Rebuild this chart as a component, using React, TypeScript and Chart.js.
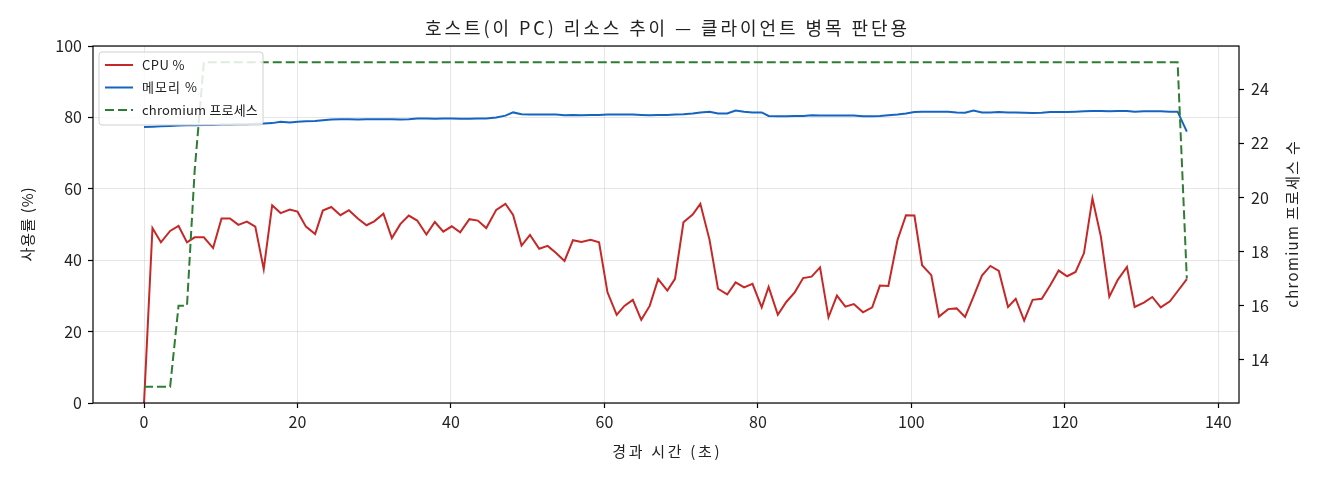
import { useEffect, useRef } from "react"
import { Chart, registerables } from "chart.js"

Chart.register(...registerables)

const FONT = '"Noto Sans CJK KR", "Noto Sans", sans-serif'

// elapsed seconds of each sample
const times = [
  0, 1.1, 2.2, 3.4, 4.5, 5.6, 6.6, 7.8, 9.0, 10.1,
  11.2, 12.3, 13.4, 14.5, 15.6, 16.7, 17.8, 19.0, 20.0, 21.1,
  22.3, 23.3, 24.4, 25.6, 26.7, 27.9, 29.0, 30.0, 31.2, 32.3,
  33.4, 34.5, 35.6, 36.8, 37.9, 39.0, 40.1, 41.2, 42.4, 43.5,
  44.6, 45.9, 47.1, 48.1, 49.2, 50.3, 51.5, 52.6, 53.7, 54.8,
  55.9, 57.0, 58.2, 59.3, 60.4, 61.6, 62.6, 63.7, 64.8, 65.9,
  67.0, 68.2, 69.2, 70.3, 71.5, 72.5, 73.7, 74.8, 76.0, 77.1,
  78.2, 79.3, 80.5, 81.4, 82.6, 83.7, 84.8, 85.9, 87.0, 88.1,
  89.2, 90.3, 91.4, 92.5, 93.7, 94.9, 95.9, 97.0, 98.2, 99.3,
  100.4, 101.4, 102.6, 103.6, 104.8, 105.9, 107.0, 108.1, 109.2, 110.3,
  111.4, 112.6, 113.6, 114.7, 115.8, 117.0, 118.1, 119.2, 120.3, 121.4,
  122.5, 123.6, 124.7, 125.8, 126.9, 128.1, 129.1, 130.3, 131.4, 132.5,
  133.7, 134.7, 135.9,
]

const cpuPct = [
  0, 49.0, 45.0, 48.2, 49.6, 45.0, 46.4, 46.4, 43.4, 51.7,
  51.7, 49.9, 50.8, 49.4, 37.5, 55.4, 53.2, 54.2, 53.6, 49.4,
  47.3, 53.9, 54.9, 52.6, 54.0, 51.6, 49.8, 50.9, 53.0, 46.2,
  50.1, 52.5, 51.1, 47.2, 50.7, 48.0, 49.5, 47.8, 51.5, 51.1,
  49.0, 54.1, 55.8, 52.7, 44.1, 47.1, 43.2, 44.0, 42.0, 39.8,
  45.6, 45.1, 45.7, 45.0, 31.0, 24.7, 27.2, 28.9, 23.3, 27.2,
  34.7, 31.5, 34.8, 50.6, 52.8, 55.8, 45.7, 32.0, 30.4, 33.8,
  32.4, 33.4, 26.8, 32.5, 24.7, 28.3, 31.0, 35.0, 35.4, 38.0,
  24.0, 30.1, 27.0, 27.7, 25.4, 26.8, 32.9, 32.8, 45.7, 52.6,
  52.5, 38.6, 35.8, 24.2, 26.3, 26.5, 24.1, 29.8, 35.7, 38.4,
  37.0, 26.9, 29.2, 23.1, 28.9, 29.2, 33.0, 37.1, 35.5, 36.7,
  42.0, 57.3, 46.6, 29.8, 34.5, 38.1, 26.9, 28.1, 29.7, 26.8,
  28.5, 31.3, 34.7,
]

const memPct = [
  77.3, 77.4, 77.5, 77.6, 77.7, 77.8, 77.8, 77.9, 77.9, 78.0,
  78.0, 78.1, 78.1, 78.2, 78.3, 78.4, 78.8, 78.6, 78.8, 78.9,
  79.0, 79.2, 79.4, 79.5, 79.5, 79.4, 79.5, 79.5, 79.5, 79.5,
  79.4, 79.5, 79.7, 79.7, 79.6, 79.7, 79.7, 79.6, 79.6, 79.7,
  79.7, 80.0, 80.5, 81.4, 80.9, 80.8, 80.8, 80.8, 80.8, 80.6,
  80.7, 80.6, 80.7, 80.7, 80.8, 80.8, 80.8, 80.8, 80.7, 80.6,
  80.7, 80.7, 80.8, 80.9, 81.1, 81.4, 81.6, 81.1, 81.1, 81.9,
  81.6, 81.4, 81.4, 80.4, 80.3, 80.3, 80.4, 80.4, 80.6, 80.5,
  80.5, 80.5, 80.5, 80.5, 80.3, 80.3, 80.4, 80.6, 80.8, 81.1,
  81.5, 81.6, 81.6, 81.6, 81.6, 81.4, 81.3, 81.9, 81.4, 81.4,
  81.5, 81.4, 81.4, 81.3, 81.2, 81.3, 81.5, 81.5, 81.5, 81.6,
  81.7, 81.8, 81.8, 81.7, 81.8, 81.8, 81.6, 81.7, 81.7, 81.7,
  81.6, 81.6, 76.0,
]

const chromiumProcs = [
  13, 13, 13, 13, 16, 16, 21, 25, 25, 25,
  25, 25, 25, 25, 25, 25, 25, 25, 25, 25,
  25, 25, 25, 25, 25, 25, 25, 25, 25, 25,
  25, 25, 25, 25, 25, 25, 25, 25, 25, 25,
  25, 25, 25, 25, 25, 25, 25, 25, 25, 25,
  25, 25, 25, 25, 25, 25, 25, 25, 25, 25,
  25, 25, 25, 25, 25, 25, 25, 25, 25, 25,
  25, 25, 25, 25, 25, 25, 25, 25, 25, 25,
  25, 25, 25, 25, 25, 25, 25, 25, 25, 25,
  25, 25, 25, 25, 25, 25, 25, 25, 25, 25,
  25, 25, 25, 25, 25, 25, 25, 25, 25, 25,
  25, 25, 25, 25, 25, 25, 25, 25, 25, 25,
  25, 25, 17,
]

const xTicks = [0, 20, 40, 60, 80, 100, 120, 140]
const pctTicks = [0, 20, 40, 60, 80, 100]
const procTicks = [14, 16, 18, 20, 22, 24]

const chartTitle = "호스트(이 PC) 리소스 추이 — 클라이언트 병목 판단용"
const xTitle = "경과 시간 (초)"
const yTitle = "사용률 (%)"
const y2Title = "chromium 프로세스 수"
const seriesLabels = ["CPU %", "메모리 %", "chromium 프로세스"]

const RED = "#c62828"
const BLUE = "#1565c0"
const GREEN = "#2e7d32"
const GRID = "rgba(176,176,176,0.32)"

// draws text stretched to a given width (the reference font is wider than Noto)
function spacedText(ctx: CanvasRenderingContext2D, text: string, x: number, y: number, width: number, align: "left" | "center") {
  ctx.letterSpacing = "0px"
  const w = ctx.measureText(text).width
  const gap = Math.max(0, (width - w) / text.length)
  ctx.letterSpacing = `${gap}px`
  ctx.textAlign = "left"
  ctx.fillText(text, align === "center" ? x - (w + gap * (text.length - 1)) / 2 : x, y)
  ctx.letterSpacing = "0px"
}

const decorations = {
  id: "decorations",
  afterDatasetsDraw(chart: Chart) {
    const { ctx, chartArea: a } = chart
    ctx.save()

    // frame
    ctx.strokeStyle = "#000"
    ctx.lineWidth = 1.2
    ctx.strokeRect(a.left, a.top, a.right - a.left, a.bottom - a.top)

    // legend
    const lx = a.left + 6
    const ly = a.top + 6
    ctx.beginPath()
    ctx.roundRect(lx, ly, 164, 73, 3)
    ctx.fillStyle = "rgba(255,255,255,0.85)"
    ctx.fill()
    ctx.strokeStyle = "#d0d0d0"
    ctx.lineWidth = 1
    ctx.stroke()

    const widths = [43, 56, 116]
    chart.data.datasets.forEach((ds: any, i: number) => {
      const yy = ly + 13 + i * 22.5
      ctx.beginPath()
      ctx.setLineDash(ds.borderDash || [])
      ctx.strokeStyle = ds.borderColor
      ctx.lineWidth = 2
      ctx.moveTo(lx + 6, yy)
      ctx.lineTo(lx + 34, yy)
      ctx.stroke()
      ctx.setLineDash([])
      ctx.fillStyle = "#222"
      ctx.font = `13px ${FONT}`
      ctx.textBaseline = "middle"
      spacedText(ctx, ds.label, lx + 43, yy, widths[i], "left")
    })
    ctx.restore()
  },
  afterDraw(chart: Chart) {
    const { ctx, chartArea: a } = chart
    const cx = (a.left + a.right) / 2
    ctx.save()
    ctx.fillStyle = "#222"
    ctx.textBaseline = "middle"

    ctx.font = `18px ${FONT}`
    spacedText(ctx, chartTitle, cx, 28, 485, "center")

    ctx.font = `15px ${FONT}`
    spacedText(ctx, xTitle, cx, 451, 110, "center")

    ctx.save()
    ctx.translate(27, (a.top + a.bottom) / 2)
    ctx.rotate(-Math.PI / 2)
    spacedText(ctx, yTitle, 0, 0, 75, "center")
    ctx.restore()

    ctx.save()
    ctx.translate(1292, (a.top + a.bottom) / 2)
    ctx.rotate(-Math.PI / 2)
    spacedText(ctx, y2Title, 0, 0, 168, "center")
    ctx.restore()

    ctx.restore()
  },
}

export default function App() {
  const chartRef = useRef<HTMLCanvasElement>(null)
  const chartInstance = useRef<Chart | null>(null)

  useEffect(() => {
    document.body.style.margin = "0"
    if (!chartRef.current) return
    if (chartInstance.current) chartInstance.current.destroy()

    const ctx = chartRef.current.getContext("2d")
    if (!ctx) return

    const tickFont = { family: FONT, size: 16 }

    chartInstance.current = new Chart(ctx, {
      type: "line",
      data: {
        datasets: [
          {
            label: seriesLabels[0],
            data: times.map((t, i) => ({ x: t, y: cpuPct[i] })),
            borderColor: RED,
            borderWidth: 2,
            pointRadius: 0,
            tension: 0,
            yAxisID: "y",
            order: 3,
          },
          {
            label: seriesLabels[1],
            data: times.map((t, i) => ({ x: t, y: memPct[i] })),
            borderColor: BLUE,
            borderWidth: 2,
            pointRadius: 0,
            tension: 0,
            yAxisID: "y",
            order: 2,
          },
          {
            label: seriesLabels[2],
            data: times.map((t, i) => ({ x: t, y: chromiumProcs[i] })),
            borderColor: GREEN,
            borderWidth: 2,
            borderDash: [9, 4],
            pointRadius: 0,
            tension: 0,
            yAxisID: "y2",
            order: 1,
          },
        ],
      },
      options: {
        animation: false,
        responsive: false,
        devicePixelRatio: 1,
        layout: { padding: { top: 46, left: 0, right: 0, bottom: 0 } },
        scales: {
          x: {
            type: "linear",
            min: -6.65,
            max: 142.7,
            afterBuildTicks: (s: any) => {
              s.ticks = xTicks.map((value) => ({ value }))
            },
            afterFit: (s: any) => {
              s.height = 77
            },
            grid: { color: GRID, tickColor: "#000", tickLength: 5, tickWidth: 1.2 },
            border: { display: false },
            ticks: { font: tickFont, color: "#222", padding: 4, maxRotation: 0 },
          },
          y: {
            type: "linear",
            position: "left",
            min: 0,
            max: 100,
            afterBuildTicks: (s: any) => {
              s.ticks = pctTicks.map((value) => ({ value }))
            },
            afterFit: (s: any) => {
              s.width = 93
            },
            grid: { color: GRID, tickColor: "#000", tickLength: 5, tickWidth: 1.2 },
            border: { display: false },
            ticks: { font: tickFont, color: "#222", padding: 6 },
          },
          y2: {
            type: "linear",
            position: "right",
            min: 12.4,
            max: 25.6,
            afterBuildTicks: (s: any) => {
              s.ticks = procTicks.map((value) => ({ value }))
            },
            afterFit: (s: any) => {
              s.width = 81
            },
            grid: { drawOnChartArea: false, tickColor: "#000", tickLength: 5, tickWidth: 1.2 },
            border: { display: false },
            ticks: { font: tickFont, color: "#222", padding: 7 },
          },
        },
        plugins: {
          legend: { display: false },
          tooltip: { enabled: false },
          title: { display: false },
        },
      },
      plugins: [decorations],
    })

    return () => {
      if (chartInstance.current) {
        chartInstance.current.destroy()
        chartInstance.current = null
      }
    }
  }, [])

  return (
    <div style={{ width: 1320, height: 480, background: "#fff" }}>
      <canvas ref={chartRef} width={1320} height={480} />
    </div>
  )
}
